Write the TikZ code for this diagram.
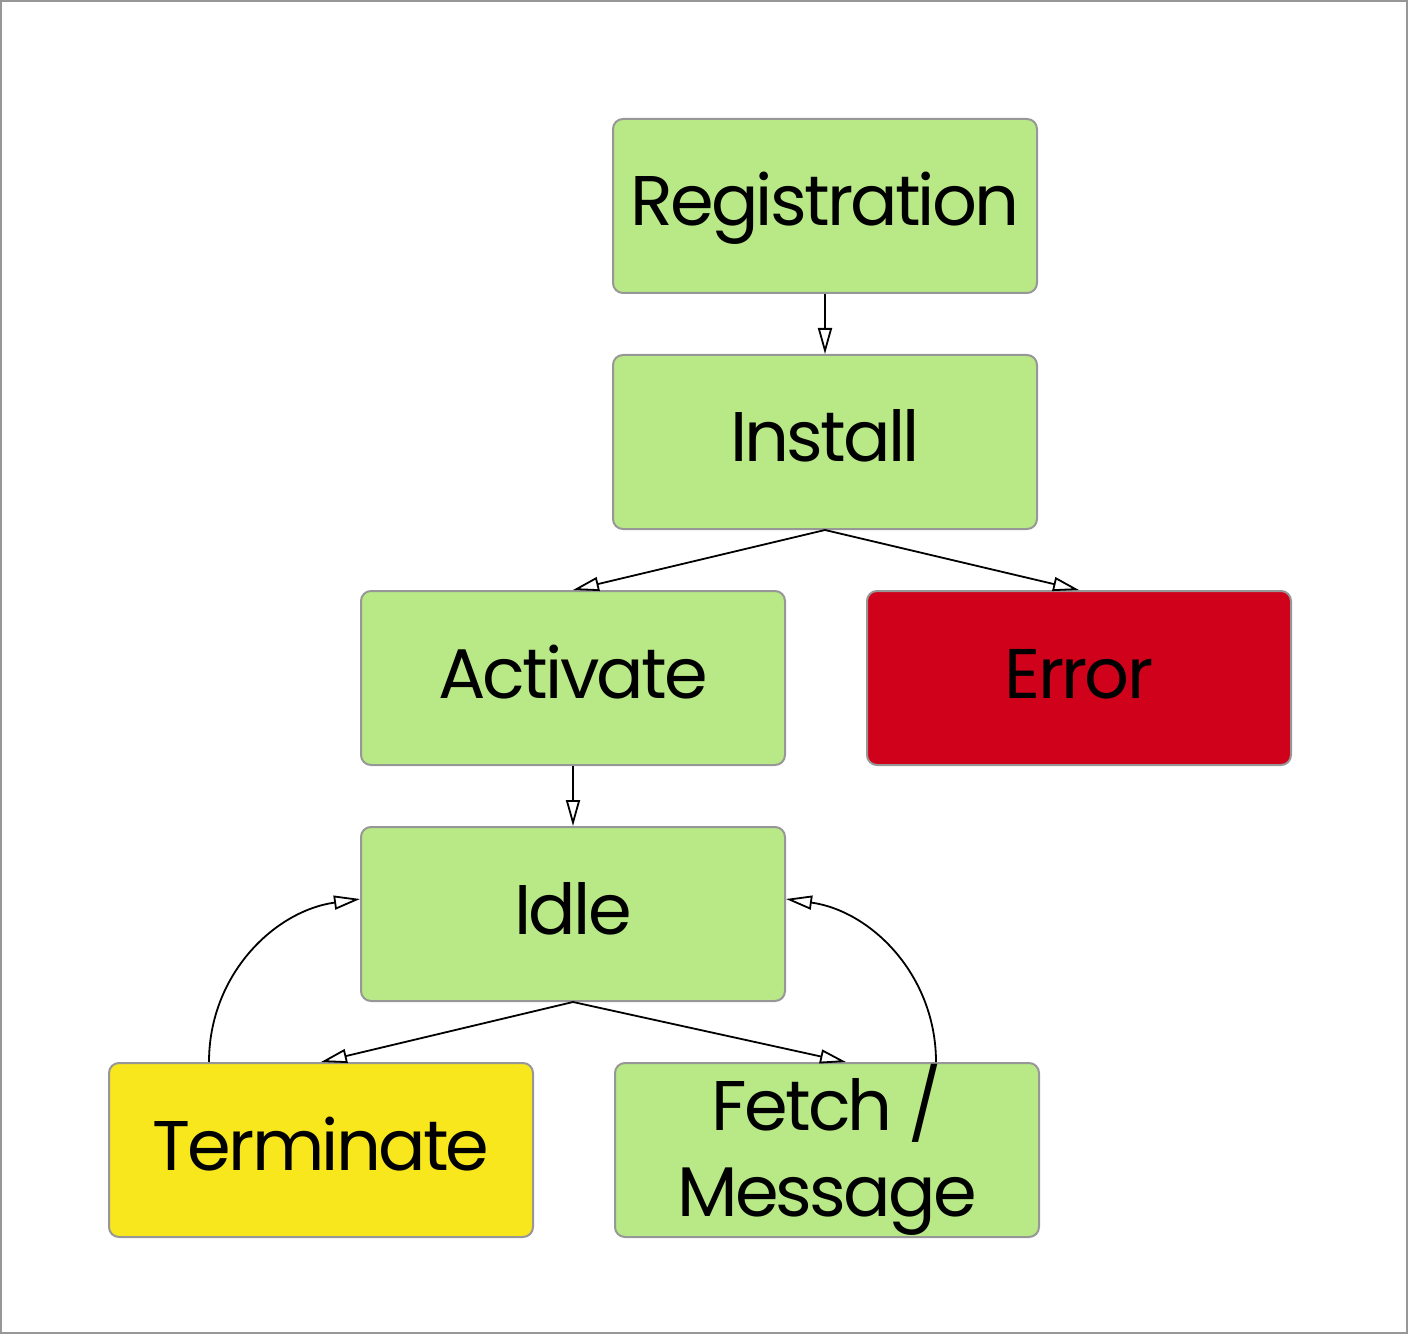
\documentclass[tikz,border=0pt]{standalone}
\usepackage{fontspec}
\setmainfont{Poppins}[LetterSpace=-4]
\usepackage{tikz}
\usetikzlibrary{arrows.meta}
\usepackage{xcolor}

\definecolor{stagegreen}{HTML}{B8E986}
\definecolor{stagered}{HTML}{D0021B}
\definecolor{stageyellow}{HTML}{F8E71C}
\definecolor{stageborder}{HTML}{979797}

\tikzset{
  stagebox/.style={rectangle, rounded corners=0.1cm, draw=stageborder, line width=0.02cm,
    fill=stagegreen, minimum width=4.24cm, minimum height=1.74cm, inner sep=0pt,
    text height=0.6cm, text depth=0.2cm,
    align=center, font=\fontsize{20}{24.5}\selectfont},
  flow/.style={-{Triangle[open, length=0.26cm, width=0.14cm]}, line width=0.018cm, black}
}

\begin{document}
\begin{tikzpicture}
            \useasboundingbox (0,0) rectangle (14.08,-13.34);
            \draw[stageborder, line width=0.02cm] (0.01,-0.01) rectangle (14.07,-13.33);

            \node[stagebox] (reg) at (8.25, -2.06) {Registration};
            \node[stagebox] (inst) at (8.25, -4.42) {Install};
            \node[stagebox] (act) at (5.73, -6.78) {Activate};
            \node[stagebox, fill=stagered] (err) at (10.79, -6.78) {Error};
            \node[stagebox] (idle) at (5.73, -9.14) {Idle};
            \node[stagebox, fill=stageyellow] (term) at (3.21, -11.50) {Terminate};
            \node[stagebox, text height=, text depth=] (fetch) at (8.27, -11.50) {Fetch /\\Message};

            \draw[flow] (reg) -- (inst);
            \draw[flow] (inst.south) -- (act.north);
            \draw[flow] (inst.south) -- (err.north);
            \draw[flow] (act) -- (idle);

            \draw[flow] (idle.south) -- (term.north);
            \draw[flow] (idle.south) -- ([xshift=0.19cm]fetch.north);

            \draw[flow] ([xshift=1.01cm]term.north west) to[out=90, in=188] ([yshift=0.15cm]idle.west);
            \draw[flow] ([xshift=-1.04cm]fetch.north east) to[out=90, in=-8] ([yshift=0.15cm]idle.east);
        \end{tikzpicture}
\end{document}
